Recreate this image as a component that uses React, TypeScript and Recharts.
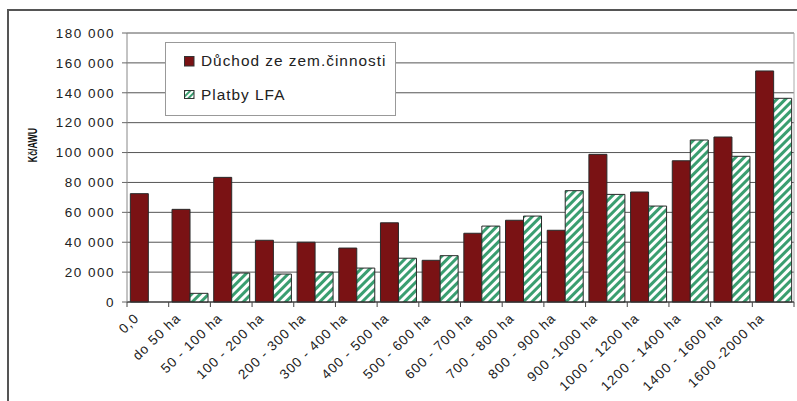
import React from 'react';
import { BarChart, Bar, XAxis, YAxis, CartesianGrid } from 'recharts';

const categories = [
  '0,0', 'do 50 ha', '50 - 100 ha', '100 - 200 ha', '200 - 300 ha', '300 - 400 ha',
  '400 - 500 ha', '500 - 600 ha', '600 - 700 ha', '700 - 800 ha', '800 - 900 ha',
  '900 -1000 ha', '1000 - 1200 ha', '1200 - 1400 ha', '1400 - 1600 ha', '1600 -2000 ha',
];
const duchod = [72500, 62000, 83400, 41300, 40000, 36100, 53000, 27900, 46000, 54700, 48000, 98800, 73600, 94500, 110400, 154600];
const lfa = [0, 5800, 19400, 18700, 20000, 22700, 29300, 31000, 50800, 57500, 74500, 72000, 64200, 108400, 97500, 136300];
const yTicks = [0, 20000, 40000, 60000, 80000, 100000, 120000, 140000, 160000, 180000];
const seriesNames = ['Důchod ze zem.činnosti', 'Platby LFA'];

const RED = '#7a1214';
const GREEN = '#3a9e70';
const FONT = '"Liberation Sans", Arial, sans-serif';

const W = 797;
const H = 401;
const MARGIN = { top: 33, right: 3, left: 0, bottom: 0 };
const Y_W = 127;
const X_H = 99;
const band = (W - MARGIN.right - Y_W) / categories.length;

const data = categories.map((name, i) => ({ name, duchod: duchod[i], lfa: lfa[i] }));

const fmt = (v: number) => (v === 0 ? '0' : `${Math.floor(v / 1000)} ${String(v % 1000).padStart(3, '0')}`);

function XTick(props: any) {
  const { x, y, payload, index } = props;
  const left = x - band / 2;
  return (
    <g>
      <line x1={left} y1={y} x2={left} y2={y + 5} stroke="#444" />
      {index === categories.length - 1 && (
        <line x1={x + band / 2} y1={y} x2={x + band / 2} y2={y + 5} stroke="#444" />
      )}
      <text
        transform={`translate(${x - 8},${y + 17}) rotate(-44)`}
        textAnchor="end"
        fontSize={13.5}
        fontFamily={FONT}
        letterSpacing={1}
        fill="#222"
      >
        {payload.value}
      </text>
    </g>
  );
}

function YTick(props: any) {
  const { x, y, payload } = props;
  return (
    <text x={x} y={y} dy="0.35em" textAnchor="end" fontSize={13.5} fontFamily={FONT} letterSpacing={1.5} fill="#222">
      {fmt(payload.value)}
    </text>
  );
}

function YLabel(props: any) {
  const vb = props.viewBox || { x: 0, y: MARGIN.top };
  const lx = vb.x + 37;
  const ly = vb.y + 112;
  return (
    <g transform={`translate(${lx},${ly}) rotate(-90) scale(0.68,1)`}>
      <text x={0} y={0} textAnchor="middle" fontSize={13} fontWeight="bold" fontFamily={FONT} fill="#111">
        Kč/AWU
      </text>
    </g>
  );
}

function Swatch({ hatch }: { hatch: boolean }) {
  return (
    <svg width={11} height={11} style={{ marginRight: 6, flex: 'none' }}>
      <defs>
        <pattern id="legendHatch" patternUnits="userSpaceOnUse" width={4} height={4} patternTransform="rotate(45)">
          <rect width={4} height={4} fill="#fff" />
          <rect width={2} height={4} fill={GREEN} />
        </pattern>
      </defs>
      <rect x={0.5} y={0.5} width={9.5} height={hatch ? 8 : 9.5} fill={hatch ? 'url(#legendHatch)' : RED} stroke="#333" />
    </svg>
  );
}

export default function App() {
  return (
    <div style={{ position: 'absolute', left: 0, top: 0, width: W, height: H, background: '#fff', overflow: 'hidden' }}>
      <div
        style={{
          position: 'absolute',
          left: 7,
          top: 9,
          right: 0,
          bottom: 0,
          borderTop: '2px solid #555',
          borderLeft: '2px solid #555',
        }}
      />
      <div style={{ position: 'absolute', left: 0, top: 0 }}>
        <BarChart width={W} height={H} data={data} margin={MARGIN} barCategoryGap="8%" barGap={0}>
          <defs>
            <pattern id="hatch" patternUnits="userSpaceOnUse" width={6} height={6} patternTransform="rotate(45)">
              <rect width={6} height={6} fill="#fff" />
              <rect width={3} height={6} fill={GREEN} />
            </pattern>
          </defs>
          <CartesianGrid vertical={false} stroke="#555" />
          <CartesianGrid
            stroke="#aaa"
            horizontalCoordinatesGenerator={({ offset }: any) => [offset.top]}
            verticalCoordinatesGenerator={({ offset }: any) => [offset.left + offset.width]}
          />
          <XAxis
            dataKey="name"
            height={X_H}
            interval={0}
            tickLine={false}
            tickSize={0}
            tickMargin={0}
            axisLine={{ stroke: '#333' }}
            tick={<XTick />}
          />
          <YAxis
            width={Y_W}
            domain={[0, 180000]}
            ticks={yTicks}
            interval={0}
            tickSize={5}
            tickMargin={7}
            tickLine={{ stroke: '#666' }}
            axisLine={{ stroke: '#888' }}
            tick={<YTick />}
            label={<YLabel />}
          />
          <Bar dataKey="duchod" name={seriesNames[0]} fill={RED} stroke="#2a2a2a" isAnimationActive={false} />
          <Bar dataKey="lfa" name={seriesNames[1]} fill="url(#hatch)" stroke="#2a2a2a" isAnimationActive={false} />
        </BarChart>
      </div>
      <div
        style={{
          position: 'absolute',
          left: 165,
          top: 42,
          width: 229,
          height: 72,
          border: '1px solid #999',
          background: '#fff',
          fontFamily: FONT,
          fontSize: 15.4,
          letterSpacing: 1,
          color: '#222',
        }}
      >
        {seriesNames.map((n, i) => (
          <div
            key={n}
            style={{
              position: 'absolute',
              left: 18,
              top: i === 0 ? 9 : 43,
              display: 'flex',
              alignItems: 'center',
              whiteSpace: 'nowrap',
            }}
          >
            <Swatch hatch={i === 1} />
            <span>{n}</span>
          </div>
        ))}
      </div>
    </div>
  );
}
